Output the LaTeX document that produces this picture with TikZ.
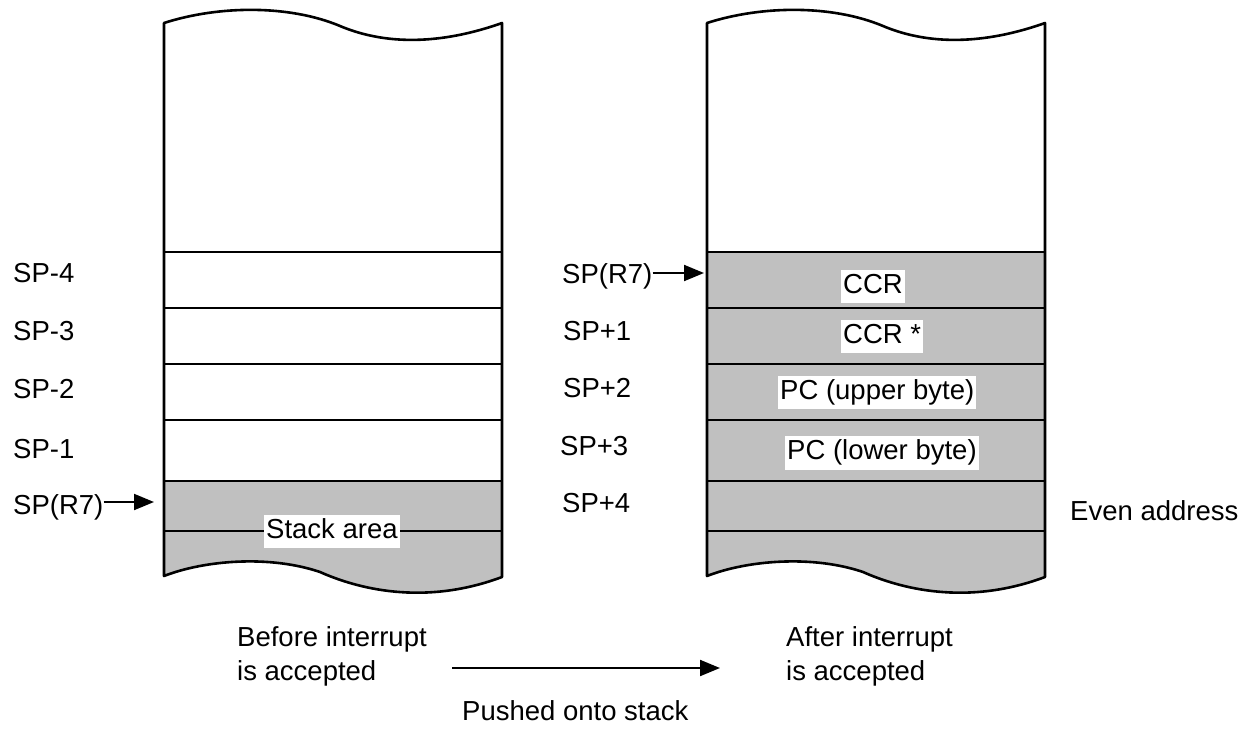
\documentclass[tikz,border=0pt]{standalone}
\usepackage{fontspec}
\setmainfont{Liberation Sans}
\usepackage{xcolor}
\usetikzlibrary{arrows.meta}
\definecolor{stackgray}{HTML}{C0C0C0}

\begin{document}
\begin{tikzpicture}[
    x=1pt, y=-1pt,
    font=\fontsize{27.5}{34}\selectfont,
    colpath/.style={insert path={(164,23) -- (164,576)
        .. controls (205,560) and (270,555) .. (320,572)
        .. controls (365,592) and (430,604) .. (502,577) -- (502,23)
        .. controls (440,45) and (385,45) .. (340,26)
        .. controls (290,5) and (220,5) .. (164,23) -- cycle}},
    outline/.style={draw=black, line width=2.6pt, line join=round},
    rowline/.style={draw=black, line width=2.6pt},
    lbl/.style={inner sep=0pt, anchor=base west},
    cell/.style={fill=white, inner xsep=2pt, inner ysep=3pt, text height=20.5pt, text depth=7pt, anchor=west},
    ptr/.style={-{Triangle[length=20pt, width=16pt]}, line width=2pt},
]
\useasboundingbox (0,0) rectangle (1252,728);

% stack before the interrupt
\begin{scope}
  \clip[colpath];
  \fill[stackgray] (164,481) rectangle (502,610);
\end{scope}
\draw[outline, colpath];
\draw[rowline] (164,252) -- (502,252);
\draw[rowline] (164,308) -- (502,308);
\draw[rowline] (164,364) -- (502,364);
\draw[rowline] (164,420) -- (502,420);
\draw[rowline] (164,481) -- (502,481);
\draw[rowline] (164,531) -- (502,531);

% stack after the interrupt
\begin{scope}[xshift=543]
  \begin{scope}
    \clip[colpath];
    \fill[stackgray] (164,252) rectangle (502,610);
  \end{scope}
  \draw[outline, colpath];
  \draw[rowline] (164,252) -- (502,252);
  \draw[rowline] (164,308) -- (502,308);
  \draw[rowline] (164,364) -- (502,364);
  \draw[rowline] (164,420) -- (502,420);
  \draw[rowline] (164,481) -- (502,481);
  \draw[rowline] (164,531) -- (502,531);
\end{scope}

% left addresses
\node[lbl] (spm4) at (13,282) {SP-4};
\node[lbl] (spm3) at (13,340) {SP-3};
\node[lbl] (spm2) at (13,398) {SP-2};
\node[lbl] (spm1) at (13,458) {SP-1};
\node[lbl] (spbef) at (13,514) {SP(R7)};
\coordinate (tipbef) at (154,502);
\draw[ptr] (spbef.east |- tipbef) -- (tipbef);

% right addresses
\node[lbl] (spaft) at (562,283) {SP(R7)};
\coordinate (tipaft) at (704,273);
\draw[ptr] (spaft.east |- tipaft) -- (tipaft);
\node[lbl] (spp1) at (563,340) {SP+1};
\node[lbl] (spp2) at (563,397) {SP+2};
\node[lbl] (spp3) at (560,455) {SP+3};
\node[lbl] (spp4) at (562,512) {SP+4};
\node[lbl] (even) at (1070,520) {Even address};

% cell contents
\node[cell] (ccr) at (841,286.5) {CCR~};
\node[cell] (ccrs) at (841,336.5) {CCR *};
\node[cell] (pcu) at (778,392.5) {PC (upper byte)};
\node[cell] (pcl) at (785,453) {PC (lower byte)};
\node[cell] (stk) at (264,531.5) {Stack area~};

% captions
\node[align=left, anchor=north west, inner sep=0pt] (before) at (237,626) {Before interrupt\\is accepted};
\node[align=left, anchor=north west, inner sep=0pt] (after) at (786,626) {After interrupt\\is accepted};
\node[lbl] (pushed) at (462,720) {Pushed onto stack};
\coordinate (pushs) at (452,668);
\coordinate (pushe) at (720,668);
\draw[ptr] (pushs) -- (pushe);

\end{tikzpicture}
\end{document}
